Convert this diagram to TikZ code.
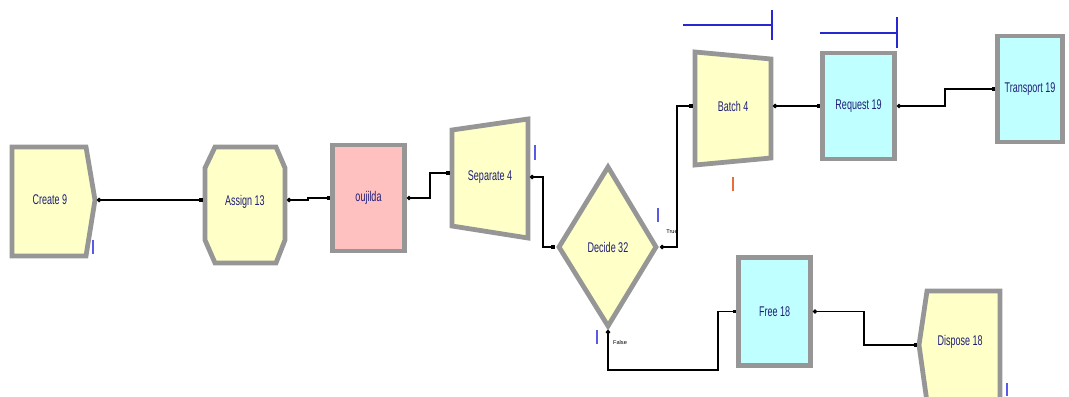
\documentclass[tikz,border=0pt]{standalone}
\usepackage{fontspec}
\setmainfont{Liberation Sans}
\usepackage{graphicx}
\usetikzlibrary{arrows.meta, positioning, calc}
\definecolor{modyellow} {RGB}{255, 255, 200}
\definecolor{modcyan}   {RGB}{192, 255, 255}
\definecolor{modpink}   {RGB}{255, 192, 192}
\definecolor{modrim}    {RGB}{150, 150, 150}
\definecolor{modtext}   {RGB}{ 30,  30, 120}
\definecolor{resblue}   {RGB}{ 40,  40, 210}
\definecolor{cntblue}   {RGB}{ 90,  90, 230}
\definecolor{cntorange} {RGB}{230, 110,  60}
\newcommand{\modname}[1]{\scalebox{0.64}[1]{\fontsize{10}{11}\selectfont #1}}

\begin{document}
\begin{tikzpicture}[x=0.025cm, y=-0.025cm,
	module/.style={draw=modrim, line width=3.4pt, line join=miter},
	boxmod/.style={module, rectangle, inner sep=0pt, text=modtext, minimum width=1.8cm, minimum height=2.65cm},
	lbl/.style={text=modtext, inner sep=0pt},
	conn/.style={line width=1.1pt, {Circle[length=3pt]}-{Square[length=2.5pt]}},
	counter/.style={line width=1.2pt},
	resline/.style={draw=resblue, line width=1.2pt},
	branch/.style={inner sep=0pt, font=\fontsize{4}{4}\selectfont}]
	\useasboundingbox (0,0) rectangle (1069,396);
	\clip (0,0) rectangle (1069,396);

	% entry side
	\draw[module, fill=modyellow] (12,147) -- (86,147) -- (95,200) -- (86,256) -- (12,256) -- cycle;
	\node[lbl] (create) at (50,200) {\modname{Create 9}};
	\coordinate (create-out) at (97,200);

	\draw[module, fill=modyellow] (215,147) -- (276,147) -- (285,168) -- (285,240) -- (276,263) -- (215,263) -- (205,240) -- (205,168) -- cycle;
	\node[lbl] (assign) at (245,202) {\modname{Assign 13}};
	\coordinate (assign-in) at (203,200);
	\coordinate (assign-out) at (287,200);

	\node[boxmod, fill=modpink] (oujilda) at (368.5,198) {\modname{oujilda}};

	\draw[module, fill=modyellow] (452,130) -- (528,119) -- (528,238) -- (452,226) -- cycle;
	\node[lbl] (separate) at (490,177) {\modname{Separate 4}};
	\coordinate (sep-in) at (450,173);
	\coordinate (sep-out) at (530,177);

	\draw[module, fill=modyellow] (608,167) -- (656,247) -- (608,326) -- (559,247) -- cycle;
	\node[lbl] (decide) at (608,247) {\modname{Decide 32}};
	\coordinate (decide-in) at (555,247);
	\coordinate (decide-true) at (660,247);
	\coordinate (decide-false) at (608,330);
	\node[branch] (true) at (672,232) {True};
	\node[branch] (false) at (620,342) {False};

	% upper branch
	\draw[module, fill=modyellow] (695,52) -- (771,59) -- (771,158) -- (695,165) -- cycle;
	\node[lbl] (batch) at (733,106) {\modname{Batch 4}};
	\coordinate (batch-in) at (693,106);
	\coordinate (batch-out) at (773,106);

	\node[boxmod, fill=modcyan] (request) at (858.5,106) {\modname{Request 19}};
	\node[boxmod, fill=modcyan, minimum width=1.63cm] (transport) at (1030,89) {\modname{Transport 19}};

	\draw[resline] (683,25) -- (772,25) (772,10) -- (772,40);
	\draw[resline] (820,33) -- (897,33) (897,17) -- (897,48);

	% lower branch
	\node[boxmod, fill=modcyan, minimum height=2.7cm] (free) at (774.5,311.5) {\modname{Free 18}};

	\draw[module, fill=modyellow] (927,291) -- (1000,291) -- (1000,402) -- (927,402) -- (919,345) -- cycle;
	\node[lbl] (dispose) at (960,342) {\modname{Dispose 18}};
	\coordinate (dispose-in) at (917,345);

	% connectors
	\draw[conn] (create-out) -- (assign-in);
	\draw[conn] (assign-out) -- ++(21,0) |- (oujilda.west);
	\draw[conn] (oujilda.east) -- ++(23,0) |- (sep-in);
	\draw[conn] (sep-out) -- ++(13,0) |- (decide-in);
	\draw[conn] (decide-true) -- ++(17,0) |- (batch-in);
	\draw[conn] (decide-false) -- ++(0,40) -| ($(free.west)+(-18,0)$) -- (free.west);
	\draw[conn] (batch-out) -- (request.west);
	\draw[conn] (request.east) -- ++(48,0) |- (transport.west);
	\draw[conn] (free.east) -- ++(51,0) |- (dispose-in);

	% counters
	\draw[counter, cntblue] (93,240) -- (93,254);
	\draw[counter, cntblue] (535,145) -- (535,160);
	\draw[counter, cntblue] (658,208) -- (658,222);
	\draw[counter, cntblue] (597,330) -- (597,344);
	\draw[counter, cntorange] (733,177) -- (733,191);
	\draw[counter, cntblue] (1007,383) -- (1007,396);
\end{tikzpicture}
\end{document}
